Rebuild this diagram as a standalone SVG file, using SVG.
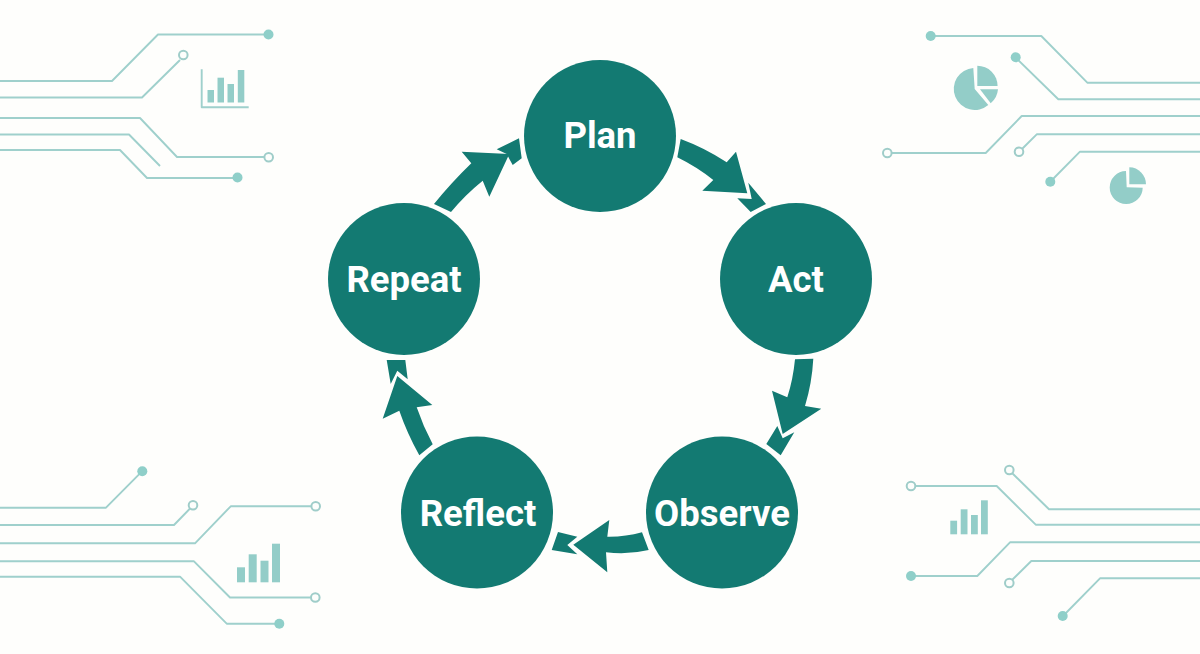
<svg xmlns="http://www.w3.org/2000/svg" width="1200" height="654" viewBox="0 0 1200 654">
<style>
.bg{fill:#fefefc}
.t{fill:none;stroke:#9fd0cc;stroke-width:1.9;stroke-linejoin:round}
.d{fill:#8fcfc9}
.o{fill:#fdfefc;stroke:#9fcdc9;stroke-width:2}
.b{fill:#93cdc8}
.n{fill:#137a72}
.a{fill:#137a72}
.l{fill:#fff;font-family:"Roboto","Liberation Sans",sans-serif;font-weight:700;font-size:36.500px;text-anchor:middle}
</style>
<rect class="bg" width="1200" height="654"/>
<g id="decor-top-left">
<path class="t" d="M0 81H112L158 34.5H268"/><path class="t" d="M0 97.5H142L180 60"/><path class="t" d="M0 118H140L177 157H264"/><path class="t" d="M0 134.500H129L160 166"/><path class="t" d="M0 150H120L147 178H237"/>
<circle class="d" cx="268.500" cy="34.500" r="5"/><circle class="o" cx="183.300" cy="55" r="4.300"/><circle class="o" cx="268.700" cy="157.300" r="4.300"/><circle class="d" cx="237.500" cy="177.500" r="5"/>
<path class="t" d="M201.700 69.300V107.300H248.700"/>
<rect class="b" x="207.500" y="90" width="6.500" height="12.500"/><rect class="b" x="217.500" y="77.700" width="6.500" height="24.800"/><rect class="b" x="227.500" y="84" width="6.500" height="18.500"/><rect class="b" x="237.800" y="70" width="6.500" height="32.500"/>
</g>
<g id="decor-top-right">
<path class="t" d="M930 36H1041.300L1087.300 82.700H1200"/><path class="t" d="M1016 58L1058.300 99.300H1200"/><path class="t" d="M891 153H985.700L1021.700 116H1200"/><path class="t" d="M1022 149L1036.700 134.300H1200"/><path class="t" d="M1050 182L1080 151.700H1200"/>
<circle class="d" cx="930.700" cy="36" r="5"/><circle class="d" cx="1015.700" cy="57.300" r="5"/><circle class="o" cx="887.300" cy="153" r="4.300"/><circle class="o" cx="1019" cy="151.700" r="4.300"/><circle class="d" cx="1050.300" cy="181.700" r="5"/>
<path class="b" d="M974.700 89L973.300 68A21 21 0 1 0 988.300 105Z"/><path class="b" d="M977.300 65.700A20.300 20.300 0 0 1 997.600 86H977.300Z"/><path class="b" d="M980 89.300H998A20.500 20.500 0 0 1 990.700 103.300Z"/>
<path class="b" d="M1126.700 187.300L1126 171A16.500 16.500 0 1 0 1142.700 187.700Z"/><path class="b" d="M1129.300 184.300V167.300A17 17 0 0 1 1146 184.300Z"/>
</g>
<g id="decor-bottom-left">
<path class="t" d="M0 507.700H106L142 471.300"/><path class="t" d="M0 525H174L190 508.500"/><path class="t" d="M0 543.300H195L230.700 506.300H311"/><path class="t" d="M0 561.300H194L230 597.500H311"/><path class="t" d="M0 576.700H180L226.700 623.700H279"/>
<circle class="d" cx="142.300" cy="471.300" r="5"/><circle class="o" cx="193" cy="505.300" r="4.300"/><circle class="o" cx="315.700" cy="506.300" r="4.300"/><circle class="o" cx="315.300" cy="597.500" r="4.300"/><circle class="d" cx="279.300" cy="623.700" r="5"/>
<rect class="b" x="237" y="567.300" width="8" height="15"/><rect class="b" x="248.700" y="554.300" width="8" height="28"/><rect class="b" x="260.500" y="560.700" width="8" height="21.600"/><rect class="b" x="272" y="543.700" width="8" height="38.600"/>
</g>
<g id="decor-bottom-right">
<path class="t" d="M915 486H996.700L1035.700 524.700H1200"/><path class="t" d="M1012 473L1049 509.300H1200"/><path class="t" d="M911 576H977.300L1010 542.300H1200"/><path class="t" d="M1012 580L1031.300 561H1200"/><path class="t" d="M1063 616L1100 578.300H1200"/>
<circle class="o" cx="911" cy="486" r="4.300"/><circle class="o" cx="1009.300" cy="470" r="4.300"/><circle class="d" cx="911" cy="576" r="5"/><circle class="o" cx="1009.300" cy="583" r="4.300"/><circle class="d" cx="1062.700" cy="616" r="5"/>
<rect class="b" x="950.300" y="520.700" width="6.800" height="13.600"/><rect class="b" x="960.700" y="509.300" width="6.800" height="25"/><rect class="b" x="971" y="515" width="6.800" height="19.300"/><rect class="b" x="981" y="500.300" width="6.800" height="34"/>
</g>
<g id="connectors">
<path class="a" d="M680.700 139Q705 148 726.700 162.300L736 151.700L747.300 193.300L702.300 190.700L713.300 180Q697 167 677.300 157.300Z"/>
<path class="a" d="M748.300 182.700L766 204L750.700 212L737.300 198.300L751.700 199Z"/>
<path class="a" d="M795 359.300L813.300 358.700Q812 383 805 406L821.300 408.700L782.700 434L772 390.700L787.300 397.300Q793 380 795 359.300Z"/>
<path class="a" d="M777.300 426L782.700 438.300L794.300 432.300L780.700 455.300L766.300 444Z"/>
<path class="a" d="M642 532.300L648.700 550Q628 555 606 552.300L607.300 572.300L573.300 544.700L609.300 520L607.300 536.700Q625 537 642 532.300Z"/>
<path class="a" d="M558 532L577.300 536.700L567.300 545L577.300 554.300L551.700 550Z"/>
<path class="a" d="M432.700 444.300L419.300 455.300Q407 433 399.300 410.700L382.700 418.700L397.300 376L432.300 405L416.700 407.300Q423 426 432.700 444.300Z"/>
<path class="a" d="M386.700 360L405.300 360L407.700 379.300L397.300 370.700L390.700 384Z"/>
<path class="a" d="M434 204Q451 183 471.300 163.300L461.700 151.700L509.300 154L489.300 196.700L482.700 180.700Q465 195 451 212Z"/>
<path class="a" d="M496.700 149.300L519 138.300L521.700 158.300L512.700 165L506.700 154Z"/>
</g>
<g id="node-plan"><circle class="n" cx="600" cy="136" r="76"/><text class="l" x="600" y="148">Plan</text></g>
<g id="node-act"><circle class="n" cx="796" cy="279" r="76"/><text class="l" x="796" y="291.500">Act</text></g>
<g id="node-observe"><circle class="n" cx="722" cy="512.500" r="76"/><text class="l" x="722" y="525.500">Observe</text></g>
<g id="node-reflect"><circle class="n" cx="477" cy="512.500" r="76"/><text class="l" x="478" y="525.500">Reflect</text></g>
<g id="node-repeat"><circle class="n" cx="404" cy="279" r="76"/><text class="l" x="404" y="291.500">Repeat</text></g>
</svg>
